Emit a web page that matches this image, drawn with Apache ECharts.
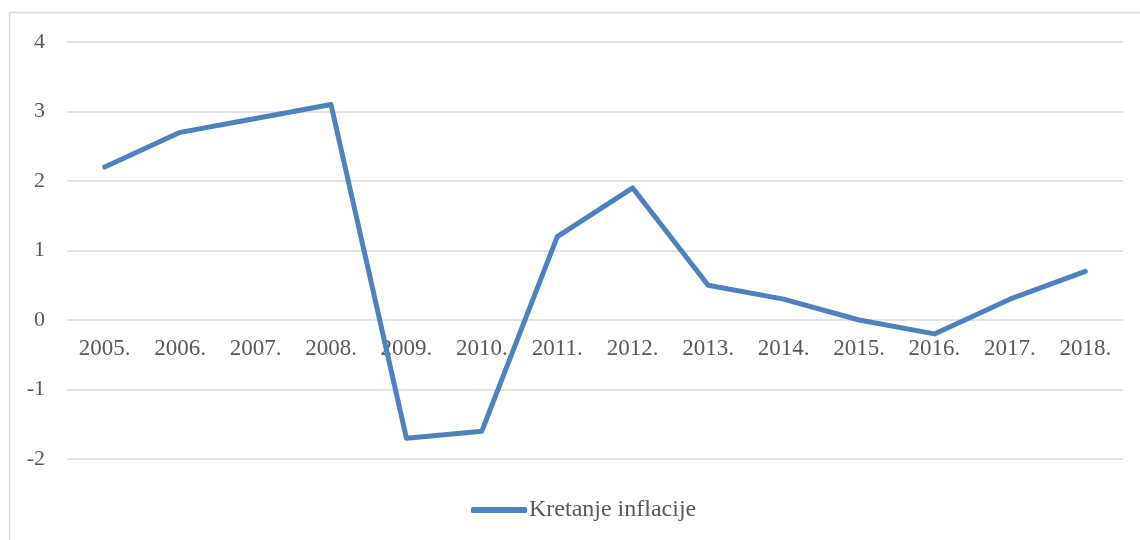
<!DOCTYPE html>
<html>
<head>
<meta charset="utf-8">
<script src="https://cdn.jsdelivr.net/npm/echarts@6/dist/echarts.min.js"></script>
<style>
html,body{margin:0;padding:0;background:#fff;}
#main{width:1140px;height:540px;}
</style>
</head>
<body>
<div id="main"></div>
<script>
const categories = ['2005.','2006.','2007.','2008.','2009.','2010.','2011.','2012.','2013.','2014.','2015.','2016.','2017.','2018.'];
const inflation = [2.2, 2.7, 2.9, 3.1, -1.7, -1.6, 1.2, 1.9, 0.5, 0.3, 0.0, -0.2, 0.3, 0.7];
const seriesName = 'Kretanje inflacije';

const chart = echarts.init(document.getElementById('main'));
const font = '"Liberation Serif", "Times New Roman", serif';
chart.setOption({
  animation: false,
  backgroundColor: '#fff',
  textStyle: { fontFamily: font },
  graphic: [{
    type: 'rect',
    shape: { x: 9.5, y: 12.5, width: 1140, height: 540 },
    style: { fill: 'none', stroke: '#d9d9d9', lineWidth: 1.5 },
    silent: true
  }],
  grid: { left: 67, right: 17, top: 42, bottom: 81, containLabel: false },
  legend: {
    bottom: 13,
    left: 466,
    data: [{ name: seriesName, icon: 'roundRect' }],
    itemWidth: 56,
    itemHeight: 6,
    textStyle: { fontFamily: font, fontSize: 24, color: '#595959', padding: [0, 0, 0, -3] }
  },
  xAxis: {
    type: 'category',
    data: categories,
    boundaryGap: true,
    offset: -139,
    axisLine: { show: false, onZero: false },
    axisTick: { show: false },
    axisLabel: { fontFamily: font, fontSize: 23, color: '#595959', margin: 17 }
  },
  yAxis: {
    type: 'value',
    min: -2,
    max: 4,
    interval: 1,
    axisLine: { show: false },
    axisTick: { show: false },
    axisLabel: { fontFamily: font, fontSize: 22, color: '#595959', margin: 22 },
    splitLine: { lineStyle: { color: '#d9d9d9', width: 1.5 } }
  },
  series: [{
    name: seriesName,
    type: 'line',
    data: inflation,
    symbol: 'none',
    itemStyle: { color: '#4f81bd' },
    lineStyle: { color: '#4f81bd', width: 5, cap: 'round', join: 'round' }
  }]
});
</script>
</body>
</html>
